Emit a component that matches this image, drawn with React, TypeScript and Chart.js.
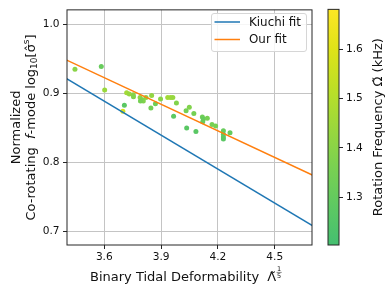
import React, { useEffect, useRef } from "react";
import { Chart, registerables } from "chart.js";

Chart.register(...registerables);

// ---------- data ----------
const tidalDeformability = [
  3.445, 3.584, 3.602, 3.706, 3.698, 3.718, 3.732, 3.753, 3.754, 3.789,
  3.798, 3.806, 3.791, 3.82, 3.85, 3.846, 3.87, 3.897, 3.935, 3.95,
  3.962, 3.966, 3.981, 4.032, 4.049, 4.035, 4.073, 4.084, 4.118, 4.123,
  4.144, 4.12, 4.169, 4.188, 4.229, 4.229, 4.229, 4.229, 4.264,
];
const fmodeLog = [
  0.935, 0.939, 0.905, 0.883, 0.874, 0.901, 0.899, 0.898, 0.895, 0.894,
  0.891, 0.889, 0.889, 0.894, 0.897, 0.879, 0.885, 0.892, 0.894, 0.894,
  0.894, 0.867, 0.886, 0.875, 0.88, 0.85, 0.871, 0.845, 0.866, 0.863,
  0.864, 0.859, 0.855, 0.853, 0.846, 0.841, 0.837, 0.834, 0.843,
];
const rotationFreq = [
  1.4, 1.31, 1.44, 1.27, 1.58, 1.46, 1.43, 1.4, 1.38, 1.41,
  1.36, 1.38, 1.35, 1.4, 1.42, 1.34, 1.33, 1.4, 1.46, 1.45,
  1.43, 1.28, 1.38, 1.35, 1.38, 1.27, 1.35, 1.27, 1.33, 1.3,
  1.35, 1.31, 1.35, 1.35, 1.31, 1.29, 1.28, 1.27, 1.3,
];
const fitX = [3.4, 4.7];
const kiuchiFit = [0.9215, 0.7085];
const ourFit = [0.9484, 0.7816];
const xTicks = [3.6, 3.9, 4.2, 4.5];
const yTicks = [0.7, 0.8, 0.9, 1.0];
const cbarTicks = [1.3, 1.4, 1.5, 1.6];

const X_MIN = 3.403;
const X_MAX = 4.697;
const Y_MIN = 0.6805;
const Y_MAX = 1.021;
const C_MIN = 1.203;
const C_MAX = 1.681;

// ---------- style ----------
const FAM = "'DejaVu Sans', sans-serif";
const TXT = "#111";
const SPINE = "#262626";
const GRID = "#c4c4c4";

const cmapStops: [number, number[]][] = [
  [0, [68, 191, 112]],
  [0.1667, [94, 201, 98]],
  [0.2593, [110, 206, 88]],
  [0.3333, [122, 209, 81]],
  [0.6296, [181, 222, 43]],
  [0.6667, [189, 223, 38]],
  [0.8333, [223, 227, 24]],
  [1, [253, 231, 37]],
];

function cmap(t: number): string {
  t = Math.max(0, Math.min(1, t));
  for (let i = 1; i < cmapStops.length; i++) {
    const [t1, c1] = cmapStops[i];
    const [t0, c0] = cmapStops[i - 1];
    if (t <= t1) {
      const f = (t - t0) / (t1 - t0);
      const c = c0.map((v, k) => Math.round(v + (c1[k] - v) * f));
      return `rgb(${c[0]},${c[1]},${c[2]})`;
    }
  }
  const c = cmapStops[cmapStops.length - 1][1];
  return `rgb(${c[0]},${c[1]},${c[2]})`;
}

type Seg = { t?: string; size: number; style?: string; dy?: number; frac?: [string, string]; gap?: number };

function fontOf(s: Seg) {
  return `${s.style || ""} ${s.size}px ${FAM}`.trim();
}

function segW(ctx: CanvasRenderingContext2D, s: Seg): number {
  if (s.gap !== undefined) return s.gap;
  ctx.font = fontOf(s);
  if (s.frac) return Math.max(ctx.measureText(s.frac[0]).width, ctx.measureText(s.frac[1]).width) + 1;
  return ctx.measureText(s.t || "").width;
}

function drawRich(ctx: CanvasRenderingContext2D, segs: Seg[], x: number, y: number, rot: number, startX?: number) {
  ctx.save();
  ctx.translate(x, y);
  ctx.rotate(rot);
  ctx.fillStyle = TXT;
  ctx.strokeStyle = TXT;
  ctx.textAlign = "left";
  ctx.textBaseline = "alphabetic";
  const total = segs.reduce((a, s) => a + segW(ctx, s), 0);
  let cx = startX !== undefined ? startX : -total / 2;
  for (const s of segs) {
    const w = segW(ctx, s);
    if (s.gap !== undefined) {
      cx += w;
      continue;
    }
    ctx.font = fontOf(s);
    if (s.frac) {
      const w1 = ctx.measureText(s.frac[0]).width;
      const w2 = ctx.measureText(s.frac[1]).width;
      ctx.fillText(s.frac[0], cx + (w - w1) / 2, -10);
      ctx.fillText(s.frac[1], cx + (w - w2) / 2, -3.5);
      ctx.lineWidth = 0.5;
      ctx.beginPath();
      ctx.moveTo(cx, -8.6);
      ctx.lineTo(cx + w, -8.6);
      ctx.stroke();
    } else {
      ctx.fillText(s.t || "", cx, s.dy || 0);
    }
    cx += w;
  }
  ctx.restore();
}

const mainDecor = {
  id: "mainDecor",
  afterDraw(chart: any) {
    const ctx: CanvasRenderingContext2D = chart.ctx;
    const a = chart.chartArea;
    // frame
    ctx.save();
    ctx.strokeStyle = SPINE;
    ctx.lineWidth = 1;
    ctx.strokeRect(a.left, a.top, a.right - a.left, a.bottom - a.top);
    ctx.restore();

    // legend
    const lx = 211, ly = 13, lw = 95, lh = 38;
    ctx.save();
    ctx.fillStyle = "rgba(255,255,255,0.85)";
    ctx.strokeStyle = "#d6d6d6";
    ctx.lineWidth = 1;
    ctx.beginPath();
    (ctx as any).roundRect(lx + 0.5, ly + 0.5, lw, lh, 2.5);
    ctx.fill();
    ctx.stroke();
    const ds = chart.data.datasets.filter((d: any) => d.showLine);
    ds.forEach((d: any, i: number) => {
      const yy = 22 + i * 17.5;
      ctx.strokeStyle = d.borderColor;
      ctx.lineWidth = 1.5;
      ctx.beginPath();
      ctx.moveTo(214.5, yy);
      ctx.lineTo(240, yy);
      ctx.stroke();
      ctx.fillStyle = TXT;
      ctx.font = `11.9px ${FAM}`;
      ctx.textBaseline = "middle";
      ctx.textAlign = "left";
      ctx.fillText(d.label, 249, yy + 0.5);
    });
    ctx.restore();

    // y title (two lines)
    const yc = (a.top + a.bottom) / 2;
    drawRich(ctx, [{ t: "Normalized", size: 13 }], 19.5, yc, -Math.PI / 2);
    drawRich(
      ctx,
      [
        { t: "Co-rotating  ", size: 13 },
        { t: "f", size: 13, style: "italic" },
        { t: "-mode log", size: 13 },
        { t: "10", size: 9, dy: 2.5 },
        { t: "[\u03C3\u0302", size: 13 },
        { t: "s", size: 9, dy: -5.5 },
        { t: "]", size: 13 },
      ],
      34.5,
      yc,
      -Math.PI / 2
    );

    // x title
    drawRich(
      ctx,
      [
        { t: "Binary Tidal Deformability", size: 13 },
        { gap: 8, size: 13 },
        { t: "\u039B\u0303", size: 13 },
        { gap: 0.5, size: 13 },
        { frac: ["1", "5"], size: 6.5 },
      ],
      0,
      281,
      0,
      90
    );
  },
};

const cbarDecor = {
  id: "cbarDecor",
  beforeDraw(chart: any) {
    const ctx: CanvasRenderingContext2D = chart.ctx;
    const a = chart.chartArea;
    const g = ctx.createLinearGradient(0, a.bottom, 0, a.top);
    cmapStops.forEach(([t, c]) => g.addColorStop(t, `rgb(${c[0]},${c[1]},${c[2]})`));
    ctx.save();
    ctx.fillStyle = g;
    ctx.fillRect(a.left, a.top, a.right - a.left, a.bottom - a.top);
    ctx.restore();
  },
  afterDraw(chart: any) {
    const ctx: CanvasRenderingContext2D = chart.ctx;
    const a = chart.chartArea;
    ctx.save();
    ctx.strokeStyle = SPINE;
    ctx.lineWidth = 1;
    ctx.strokeRect(a.left, a.top, a.right - a.left, a.bottom - a.top);
    ctx.restore();
    drawRich(
      ctx,
      [
        { t: "Rotation Frequency ", size: 13 },
        { t: "\u03A9\u0303", size: 13 },
        { t: " (kHz)", size: 13 },
      ],
      381.5,
      (a.top + a.bottom) / 2,
      -Math.PI / 2
    );
  },
};

export default function App() {
  const mainRef = useRef<HTMLCanvasElement>(null);
  const cbarRef = useRef<HTMLCanvasElement>(null);

  useEffect(() => {
    const points = tidalDeformability.map((x, i) => ({ x, y: fmodeLog[i] }));
    const colors = rotationFreq.map((v) => cmap((v - C_MIN) / (C_MAX - C_MIN)));
    const tickFont = { family: FAM, size: 10.6 };

    const main = new Chart(mainRef.current as HTMLCanvasElement, {
      type: "scatter",
      data: {
        datasets: [
          {
            label: "Kiuchi fit",
            data: fitX.map((x, i) => ({ x, y: kiuchiFit[i] })),
            showLine: true,
            borderColor: "#1f77b4",
            backgroundColor: "#1f77b4",
            borderWidth: 1.5,
            pointRadius: 0,
            order: 0,
          },
          {
            label: "Our fit",
            data: fitX.map((x, i) => ({ x, y: ourFit[i] })),
            showLine: true,
            borderColor: "#ff7f0e",
            backgroundColor: "#ff7f0e",
            borderWidth: 1.5,
            pointRadius: 0,
            order: 0,
          },
          {
            label: "samples",
            data: points,
            pointBackgroundColor: colors,
            pointBorderWidth: 0,
            pointRadius: 2.5,
            order: 1,
          } as any,
        ],
      },
      options: {
        responsive: false,
        animation: false,
        layout: { padding: { left: 0, right: 79, top: 6, bottom: 0 } },
        scales: {
          x: {
            type: "linear",
            min: X_MIN,
            max: X_MAX,
            afterBuildTicks: (s: any) => {
              s.ticks = xTicks.map((v) => ({ value: v }));
            },
            afterFit: (s: any) => {
              s.height = 46;
            },
            ticks: {
              callback: (v: any) => Number(v).toFixed(1),
              font: tickFont,
              color: TXT,
              padding: 2,
              maxRotation: 0,
              autoSkip: false,
            },
            grid: { color: GRID, lineWidth: 1, tickLength: 4, tickColor: SPINE },
            border: { display: false },
          },
          y: {
            type: "linear",
            min: Y_MIN,
            max: Y_MAX,
            afterBuildTicks: (s: any) => {
              s.ticks = yTicks.map((v) => ({ value: v }));
            },
            afterFit: (s: any) => {
              s.width = 67;
            },
            ticks: {
              callback: (v: any) => Number(v).toFixed(1),
              font: tickFont,
              color: TXT,
              padding: 3.5,
              autoSkip: false,
            },
            grid: { color: GRID, lineWidth: 1, tickLength: 4, tickColor: SPINE },
            border: { display: false },
          },
        },
        plugins: { legend: { display: false }, tooltip: { enabled: false } },
      },
      plugins: [mainDecor],
    });

    const cbar = new Chart(cbarRef.current as HTMLCanvasElement, {
      type: "scatter",
      data: { datasets: [] },
      options: {
        responsive: false,
        animation: false,
        layout: { padding: { left: 328, right: 0, top: 6, bottom: 46 } },
        scales: {
          x: { display: false, min: 0, max: 1 },
          y: {
            position: "right",
            min: C_MIN,
            max: C_MAX,
            afterBuildTicks: (s: any) => {
              s.ticks = cbarTicks.map((v) => ({ value: v }));
            },
            afterFit: (s: any) => {
              s.width = 52;
            },
            ticks: {
              callback: (v: any) => Number(v).toFixed(1),
              font: tickFont,
              color: TXT,
              padding: 3,
              autoSkip: false,
            },
            grid: { drawOnChartArea: false, tickLength: 4, tickColor: SPINE },
            border: { display: false },
          },
        },
        plugins: { legend: { display: false }, tooltip: { enabled: false } },
      },
      plugins: [cbarDecor],
    });

    return () => {
      main.destroy();
      cbar.destroy();
    };
  }, []);

  return (
    <div style={{ position: "absolute", left: 0, top: 0, width: 391, height: 291, background: "#fff" }}>
      <canvas ref={mainRef} width={391} height={291} style={{ position: "absolute", left: 0, top: 0 }} />
      <canvas ref={cbarRef} width={391} height={291} style={{ position: "absolute", left: 0, top: 0 }} />
    </div>
  );
}
